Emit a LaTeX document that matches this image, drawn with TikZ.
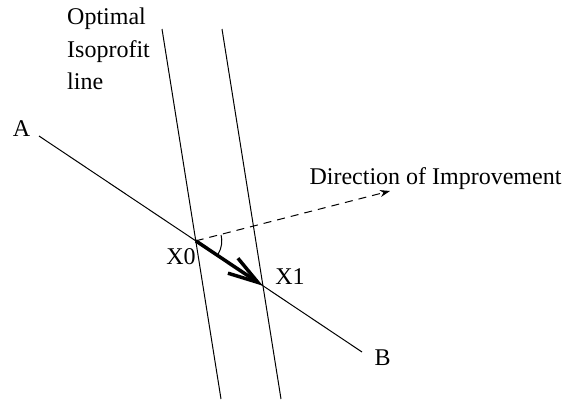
\documentclass[tikz,border=0pt]{standalone}
\usepackage{fontspec}
\setmainfont{Liberation Serif}
\usetikzlibrary{arrows.meta,positioning,calc}

\begin{document}
\begin{tikzpicture}[x=1pt, y=-1pt,
    every node/.style={font=\fontsize{24}{32.5}\selectfont, inner sep=0pt},
    ln/.style={line width=1pt},
    move/.style={line width=3.5pt, -{Straight Barb[length=30pt, width=18pt]}},
    dir/.style={line width=1pt, dash pattern=on 8pt off 6pt, -{Stealth[length=10pt, width=7pt]}}]
  \useasboundingbox (0,0) rectangle (565,400);
  % constraint line and the two isoprofit lines
  \coordinate (a) at (39,136);
  \coordinate (b) at (362,352);
  \coordinate (p1) at (162,29);
  \coordinate (p2) at (221,399);
  \coordinate (q1) at (222,29);
  \coordinate (q2) at (281,399);
  \coordinate (x0) at (intersection of a--b and p1--p2);
  \coordinate (x1) at (intersection of a--b and q1--q2);
  \coordinate (imp) at (390,191);
  \draw[ln] (a) -- (b);
  \draw[ln] (p1) -- (p2);
  \draw[ln] (q1) -- (q2);
  \draw[dir] (x0) -- (imp);
  \draw[move] (x0) -- (x1);
  \draw[ln] ($(x0)+(13:26pt)$) arc[start angle=13, end angle=-30, radius=26pt];
  % labels
  \node (A) at (21.5,128.5) {A};
  \node (B) at (382.5,358) {B};
  \node (X0) at (181,257) {X0};
  \node (X1) at (290,277) {X1};
  \node[anchor=base] (improve) at (435.5,184) {Direction of Improvement};
  \node[anchor=north west, align=left] (optimal) at (67,8) {Optimal\\Isoprofit\\line};
\end{tikzpicture}
\end{document}
